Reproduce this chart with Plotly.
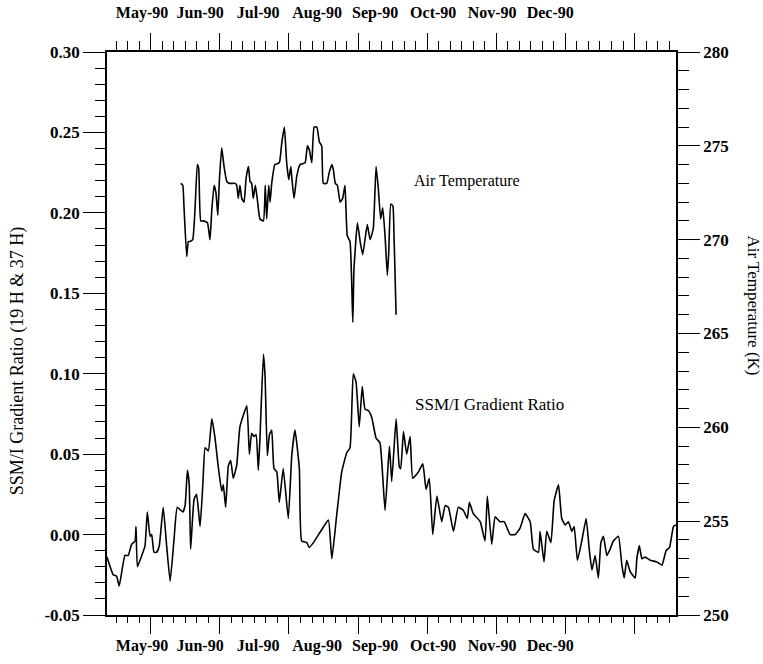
import plotly.graph_objects as go

# ---------------- data ----------------
# x is a day index (day of year 1990)
ssmi_day = [101.0, 103.7, 105.2, 106.3, 108.8, 110.2, 111.7, 113.2, 113.6, 114.2,
            116.1, 117.5, 118.5, 119.7, 120.4, 121.4, 122.6, 123.7, 125.4, 126.9,
            128.4, 130.1, 131.5, 133.9, 134.9, 135.9, 136.7, 137.3, 138.8, 139.9,
            141.4, 142.6, 143.6, 145.0, 146.5, 147.9, 149.3, 150.8, 151.5, 152.5,
            153.7, 154.7, 155.8, 157.3, 158.7, 161.7, 162.8, 163.8, 164.8, 165.7,
            166.7, 167.4, 168.9, 169.6, 170.6, 171.5, 172.5, 173.5, 174.7, 175.8,
            177.5, 179.7, 181.2, 182.6, 184.5, 185.5, 187.7, 188.8, 190.6, 194.2,
            197.1, 198.6, 200.7, 202.9, 205.1, 206.5, 207.9, 209.1, 210.5, 211.8,
            213.0, 214.5, 215.9, 217.8, 219.5, 221.7, 223.6, 224.6, 226.5, 227.9,
            228.5, 229.7, 231.1, 232.6, 233.7, 236.2, 238.1, 239.5, 240.9, 242.4,
            244.2, 246.3, 247.8, 249.2, 251.4, 253.5, 255.7, 257.4, 258.3, 260.0,
            263.0, 265.1, 266.1, 268.0, 269.5, 271.6, 273.4, 276.0, 278.2, 280.3,
            282.5, 284.7, 286.1, 288.3, 289.0, 290.7, 291.9, 293.7, 295.1, 297.0,
            298.4, 299.9, 301.3, 302.8, 303.8, 305.2, 307.1, 309.0, 310.4, 311.5,
            312.9, 314.3, 315.4, 316.5, 318.0, 319.4, 320.8, 323.0, 324.5, 325.5,
            326.6, 328.1, 330.3, 331.0, 332.1, 333.2, 334.6, 336.8, 339.7, 341.9,
            343.7, 345.2, 346.9, 348.0]
ssmi_ratio = [-0.014, -0.025, -0.026, -0.032, -0.013, -0.013, -0.006, -0.004, 0.005, -0.020,
              -0.013, -0.007, 0.014, -0.001, 0.000, -0.011, -0.011, -0.007, 0.017, -0.007,
              -0.029, -0.003, 0.017, 0.014, 0.018, 0.040, 0.031, -0.009, 0.022, 0.025,
              0.005, 0.031, 0.054, 0.052, 0.072, 0.060, 0.042, 0.027, 0.031, 0.017,
              0.043, 0.046, 0.035, 0.043, 0.067, 0.080, 0.050, 0.063, 0.061, 0.062,
              0.040, 0.060, 0.112, 0.099, 0.049, 0.062, 0.065, 0.041, 0.039, 0.020,
              0.041, 0.010, 0.049, 0.065, 0.041, -0.004, -0.005, -0.008, -0.005, 0.003,
              0.009, -0.015, 0.012, 0.039, 0.051, 0.054, 0.100, 0.095, 0.067, 0.092,
              0.078, 0.077, 0.073, 0.060, 0.057, 0.015, 0.055, 0.033, 0.072, 0.042,
              0.041, 0.064, 0.050, 0.061, 0.035, 0.039, 0.044, 0.028, 0.035, 0.000,
              0.024, 0.008, 0.018, 0.017, 0.002, 0.017, 0.015, 0.010, 0.020, 0.013,
              0.008, -0.004, 0.024, -0.006, 0.011, 0.008, 0.008, 0.000, 0.000, 0.004,
              0.013, 0.008, -0.009, -0.011, 0.002, -0.017, 0.002, -0.005, 0.021, 0.031,
              0.010, 0.006, 0.008, 0.002, 0.005, -0.016, -0.004, 0.010, -0.010, -0.022,
              -0.013, -0.027, -0.005, -0.001, -0.013, -0.009, -0.004, -0.001, -0.019, -0.027,
              -0.016, -0.023, -0.027, -0.015, -0.007, -0.015, -0.014, -0.016, -0.017, -0.019,
              -0.010, -0.008, 0.005, 0.006]

air_day = [133.0, 133.9, 134.4, 135.6, 136.3, 137.0, 138.2, 139.2, 140.2, 140.8,
           141.7, 142.8, 144.6, 145.7, 146.5, 147.5, 148.3, 149.1, 149.8, 150.8,
           151.8, 153.0, 154.1, 156.6, 157.3, 158.0, 158.7, 159.5, 160.5, 161.4,
           162.4, 163.1, 163.8, 164.5, 165.4, 166.3, 167.4, 168.9, 169.7, 170.3,
           171.2, 171.8, 172.5, 173.9, 175.8, 176.9, 178.0, 179.0, 179.9, 180.8,
           181.3, 182.2, 183.4, 184.8, 187.0, 188.0, 188.8, 189.9, 190.9, 192.1,
           193.2, 194.2, 194.9, 196.4, 197.5, 198.6, 199.3, 200.1, 201.0, 202.2,
           203.3, 204.3, 205.3, 206.5, 207.7, 208.2, 209.7, 210.9, 212.0, 214.0,
           215.2, 216.6, 217.8, 218.8, 219.8, 220.7, 221.7, 222.7, 223.3, 224.2,
           225.1, 225.6, 226.5]
air_temp = [273.0, 272.9, 271.8, 269.1, 269.9, 269.9, 270.0, 271.6, 274.0, 273.8,
            271.0, 271.0, 270.9, 270.0, 271.6, 272.9, 272.5, 271.3, 273.2, 274.9,
            273.9, 273.1, 273.0, 273.0, 272.9, 272.2, 272.9, 272.2, 272.0, 273.3,
            273.9, 273.1, 273.0, 272.2, 272.9, 272.1, 271.1, 271.0, 272.9, 271.1,
            272.9, 272.0, 273.0, 274.0, 274.1, 275.2, 276.0, 274.1, 273.2, 273.9,
            273.2, 272.2, 273.4, 274.0, 274.1, 275.0, 274.8, 274.1, 276.0, 276.0,
            275.2, 275.0, 273.0, 273.0, 273.6, 274.0, 273.7, 273.0, 272.9, 272.0,
            272.2, 272.9, 270.2, 269.9, 265.6, 268.4, 270.9, 269.9, 269.2, 270.8,
            270.0, 270.6, 273.9, 272.7, 271.1, 271.7, 270.2, 268.1, 269.3, 271.9,
            271.8, 270.2, 266.0]

month_labels = ["May-90", "Jun-90", "Jul-90", "Aug-90", "Sep-90", "Oct-90", "Nov-90", "Dec-90"]
month_label_day = [116.2, 141.4, 166.6, 192.2, 217.4, 242.6, 268.2, 293.4]

ratio_ticks = [-0.05, 0.00, 0.05, 0.10, 0.15, 0.20, 0.25, 0.30]
ratio_tick_text = ["-0.05", "0.00", "0.05", "0.10", "0.15", "0.20", "0.25", "0.30"]
temp_ticks = [250, 255, 260, 265, 270, 275, 280]

x_range = [101, 348]
ratio_range = [-0.05, 0.30]
temp_range = [250, 280]

FONT = "Liberation Serif"

fig = go.Figure()
fig.add_trace(go.Scatter(x=ssmi_day, y=ssmi_ratio, mode="lines",
                         line=dict(color="black", width=1.6, shape="spline", smoothing=0.4),
                         xaxis="x", yaxis="y", showlegend=False, hoverinfo="skip"))
fig.add_trace(go.Scatter(x=air_day, y=air_temp, mode="lines",
                         line=dict(color="black", width=1.6, shape="spline", smoothing=0.4),
                         xaxis="x", yaxis="y2", showlegend=False, hoverinfo="skip"))
# invisible helper traces so that the top frame axis and the month-label axes are drawn
for ax in ["x2", "x3", "x4"]:
    fig.add_trace(go.Scatter(x=x_range, y=ratio_range, mode="markers",
                             marker=dict(opacity=0, size=1), xaxis=ax, yaxis="y",
                             showlegend=False, hoverinfo="skip"))

common_x = dict(range=x_range, showgrid=False, zeroline=False, showline=True,
                linecolor="black", linewidth=1.6, tickmode="linear", tick0=0, dtick=30,
                ticks="outside", tickcolor="black", tickwidth=1.3, showticklabels=False,
                automargin=False)

label_x = dict(range=x_range, overlaying="x", anchor="y", automargin=False,
               showgrid=False, zeroline=False, showline=False,
               tickmode="array", tickvals=month_label_day, ticktext=month_labels,
               ticks="outside", tickcolor="rgba(0,0,0,0)",
               tickfont=dict(family=FONT, size=16, color="black", weight="bold"))

fig.update_layout(
    width=763, height=664, autosize=False,
    margin=dict(l=107, r=87, t=52, b=49, pad=0),
    paper_bgcolor="white", plot_bgcolor="white",
    font=dict(family=FONT, size=16, color="black"),
    xaxis=dict(**common_x, side="bottom", anchor="y", ticklen=17,
               minor=dict(dtick=5, tick0=0, ticklen=6, ticks="outside",
                          tickcolor="black", tickwidth=1.2)),
    xaxis2=dict(**common_x, side="top", anchor="y", overlaying="x", ticklen=17,
                minor=dict(dtick=5, tick0=0, ticklen=9, ticks="outside",
                           tickcolor="black", tickwidth=1.2)),
    xaxis3=dict(**label_x, side="bottom", ticklen=16),
    xaxis4=dict(**label_x, side="top", ticklen=27),
    yaxis=dict(range=ratio_range, showgrid=False, zeroline=False, showline=True,
               linecolor="black", linewidth=1.6, side="left", anchor="x",
               automargin=False,
               tickmode="array", tickvals=ratio_ticks, ticktext=ratio_tick_text,
               ticks="outside", ticklen=22, tickcolor="black", tickwidth=1.3,
               tickfont=dict(family=FONT, size=17, color="black", weight="bold"),
               minor=dict(dtick=0.01, tick0=0, ticklen=10, ticks="outside",
                          tickcolor="black", tickwidth=1.2)),
    yaxis2=dict(range=temp_range, showgrid=False, zeroline=False, showline=True,
                linecolor="black", linewidth=1.6, side="right", anchor="x",
                overlaying="y", automargin=False, tickmode="array", tickvals=temp_ticks,
                ticks="outside", ticklen=22, tickcolor="black", tickwidth=1.3,
                tickfont=dict(family=FONT, size=17, color="black", weight="bold"),
                minor=dict(dtick=1, tick0=0, ticklen=11, ticks="outside",
                           tickcolor="black", tickwidth=1.2)),
    annotations=[
        dict(text="Air Temperature", x=233.4, y=0.2197, xref="x", yref="y",
             xanchor="left", yanchor="middle", showarrow=False,
             font=dict(family=FONT, size=16, color="black")),
        dict(text="SSM/I Gradient Ratio", x=233.9, y=0.0807, xref="x", yref="y",
             xanchor="left", yanchor="middle", showarrow=False,
             font=dict(family=FONT, size=17, color="black")),
        dict(text="SSM/I Gradient Ratio (19 H &amp; 37 H)", x=-0.157, y=0.45,
             xref="paper", yref="paper", textangle=-90, showarrow=False,
             xanchor="center", yanchor="middle",
             font=dict(family=FONT, size=18, color="black")),
        dict(text="Air Temperature (K)", x=1.137, y=0.55,
             xref="paper", yref="paper", textangle=90, showarrow=False,
             xanchor="center", yanchor="middle",
             font=dict(family=FONT, size=17, color="black")),
    ],
)

fig.write_html("out.html")
